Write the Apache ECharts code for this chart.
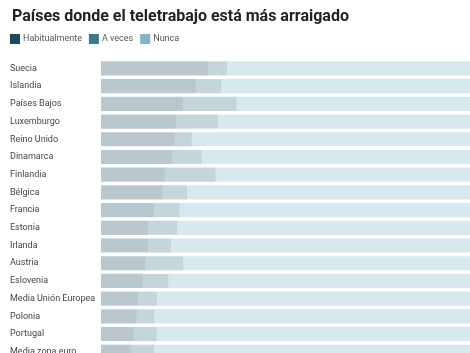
<!DOCTYPE html>
<html>
<head>
<meta charset="utf-8">
<script src="https://cdn.jsdelivr.net/npm/echarts@6/dist/echarts.min.js"></script>
<style>
  html, body { margin: 0; padding: 0; background: #fff; overflow: hidden; }
  #chart { width: 470px; height: 365px; }
</style>
</head>
<body>
<div id="chart"></div>
<script>
const categories = [
  'Suecia', 'Islandia', 'Países Bajos', 'Luxemburgo', 'Reino Unido', 'Dinamarca',
  'Finlandia', 'Bélgica', 'Francia', 'Estonia', 'Irlanda', 'Austria', 'Eslovenia',
  'Media Unión Europea', 'Polonia', 'Portugal', 'Media zona euro'
]
const habitualmente = [29.1, 25.7, 22.2, 20.5, 20.1, 19.4, 17.4, 16.7, 14.4, 12.8, 12.8, 12.1, 11.3, 10.0, 9.7, 8.9, 8.3]
const aVeces = [5.1, 6.9, 14.6, 11.2, 4.5, 7.9, 13.7, 6.6, 6.9, 7.9, 6.2, 10.2, 7.0, 5.2, 4.8, 6.2, 6.2]
const nunca = habitualmente.map((h, i) => +(100 - h - aVeces[i]).toFixed(1))

const colors = ['#1b4a5a', '#3f7888', '#7fb5c5']

const chart = echarts.init(document.getElementById('chart'))

function barSeries(name, data, color) {
  return {
    name,
    type: 'bar',
    stack: 'total',
    data,
    barCategoryGap: '20%',
    itemStyle: { color, opacity: 0.3 },
    emphasis: { disabled: true },
  }
}

chart.setOption({
  animation: false,
  title: {
    text: 'Países donde el teletrabajo está más arraigado',
    left: 7,
    top: 4,
    textStyle: { fontFamily: 'Roboto', fontWeight: 'bold', fontSize: 16, color: '#222' },
  },
  legend: {
    left: 10,
    top: 34,
    padding: 0,
    itemWidth: 10,
    itemHeight: 10,
    itemGap: 7,
    icon: 'rect',
    textStyle: { fontFamily: 'Roboto', fontSize: 9, color: '#555', padding: [0, 0, 0, -2] },
    data: [
      { name: 'Habitualmente', itemStyle: { color: colors[0], opacity: 1 } },
      { name: 'A veces', itemStyle: { color: colors[1], opacity: 1 } },
      { name: 'Nunca', itemStyle: { color: colors[2], opacity: 1 } },
    ],
  },
  grid: { left: 101, right: 0, top: 59.6, height: 301 },
  xAxis: {
    type: 'value',
    min: 0,
    max: 100,
    show: false,
  },
  yAxis: {
    type: 'category',
    data: categories,
    inverse: true,
    axisLine: { show: false },
    axisTick: { show: false },
    axisLabel: {
      align: 'left',
      margin: 91,
      fontFamily: 'Roboto',
      fontSize: 9,
      color: '#444',
    },
  },
  series: [
    barSeries('Habitualmente', habitualmente, colors[0]),
    barSeries('A veces', aVeces, colors[1]),
    barSeries('Nunca', nunca, colors[2]),
  ],
})
</script>
</body>
</html>
